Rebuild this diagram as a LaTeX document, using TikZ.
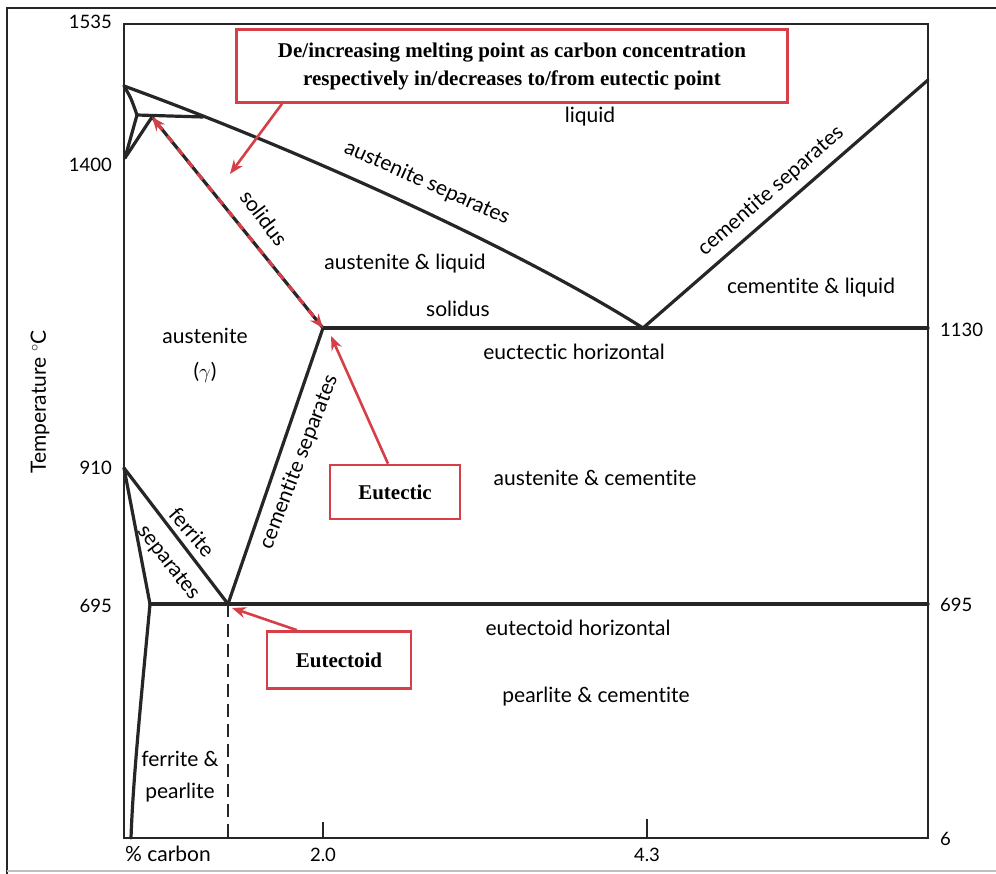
\documentclass[tikz,border=0pt]{standalone}
\usepackage{fontspec}
\setmainfont{Lato}[Ligatures=NoCommon]
\newfontfamily\calloutfont{Liberation Serif}
\usepackage{xcolor}
\usetikzlibrary{arrows.meta, positioning}
\definecolor{callred}{RGB}{214,62,72}

\begin{document}
\begin{tikzpicture}[x=1pt, y=-1pt,
    every node/.style={font=\fontsize{21}{24}\selectfont, inner sep=1pt},
    phase/.style={line width=3.2pt, black!85, line join=round, line cap=round},
    axis/.style={line width=2.8pt, black!85},
    tick/.style={line width=1.6pt, black!85},
    dashline/.style={line width=1.6pt, black!85, dash pattern=on 13pt off 7pt},
    soldash/.style={line width=3.2pt, callred, dash pattern=on 8pt off 8pt, {Stealth[length=14pt,width=11pt]}-{Stealth[length=14pt,width=11pt]}},
    callout/.style={rectangle, draw=callred, line width=2.6pt, fill=white, align=center, font=\calloutfont\bfseries\fontsize{21}{28}\selectfont},
    redarrow/.style={-{Stealth[length=14pt,width=11pt]}, line width=2.6pt, callred},
    num/.style={font=\fontsize{18.5}{21}\selectfont},
    ylbl/.style={num, anchor=east},
    xlbl/.style={anchor=north}
]
\useasboundingbox (0,0) rectangle (996,874);

% ── Outer frame ──
\coordinate (fTL) at (7,8);
\coordinate (fTR) at (996,8);
\coordinate (fBL) at (7,874);
\coordinate (fBR) at (996,871);
\draw[line width=2.4pt, black!85] (fBL) -- (fTL) -- (fTR);
\draw[line width=1.5pt, black!25] (7,871) -- (fBR);

% ── Axes box ──
\coordinate (oTL) at (124,24);
\coordinate (oBR) at (928,838);
\draw[axis] (oTL) rectangle (oBR);

% ── Key points ──
\coordinate (peak)  at (124,86);
\coordinate (pjoin) at (203,117);
\coordinate (pleft) at (137,115);
\coordinate (psol)  at (152,117);
\coordinate (plow)  at (125,158);
\coordinate (eut)   at (323,328);
\coordinate (eutc)  at (643,328);
\coordinate (eutR)  at (928,328);
\coordinate (liqR)  at (928,80);
\coordinate (a3)    at (124,468);
\coordinate (eoid)  at (228,604);
\coordinate (a1L)   at (150,604);
\coordinate (a1R)   at (928,604);
\coordinate (sbot)  at (131,838);
\coordinate (dbot)  at (228,838);

% ── Phase lines ──
\draw[phase] (peak) .. controls (300,150) and (520,250) .. (eutc);
\draw[phase] (eutc) -- (liqR);
\draw[phase] (peak) .. controls (131,98) .. (pleft);
\draw[phase] (pleft) -- (pjoin);
\draw[phase] (pleft) -- (plow);
\draw[phase] (psol) -- (plow);
\draw[phase] (eut) -- (eutR);
\draw[phase] (eut) -- (eoid);
\draw[phase] (a3) -- (eoid);
\draw[phase] (a3) -- (a1L);
\draw[phase] (a1L) .. controls (141,700) and (133,780) .. (sbot);
\draw[phase] (a1L) -- (a1R);
\draw[dashline] (eoid) -- (dbot);

% ── Solidus (dashed red) ──
\draw[phase] (psol) -- (eut);
\draw[soldash] (psol) -- (eut);

% ── Ticks ──
\coordinate (t20) at (323,822);
\coordinate (t20b) at (323,838);
\coordinate (t43) at (647,819);
\coordinate (t43b) at (647,838);
\draw[tick] (t20) -- (t20b);
\draw[tick] (t43) -- (t43b);

% ── Axis labels ──
\node[ylbl] (y1535) at (113,22) {1535};
\node[ylbl] (y1400) at (113,165) {1400};
\node[ylbl] (y910)  at (113,468) {910};
\node[ylbl] (y695)  at (113,606) {695};
\node[num, anchor=west] (r1130) at (939,330) {1130};
\node[num, anchor=west] (r695)  at (939,605) {695};
\node[num, anchor=west] (r6)    at (939,839) {6};
\node[xlbl] (xpc) at (168,845) {\% carbon};
\node[xlbl, num] (x20) at (323,847) {2.0};
\node[xlbl, num] (x43) at (647,847) {4.3};
\node[rotate=90] (ytitle) at (40,402) {Temperature $^\circ$C};

% ── Region labels ──
\node (liquid) at (590,117) {liquid};
\node[rotate=-24] (aussep) at (427,183) {austenite separates};
\node[rotate=-53] (solL) at (264,218) {solidus};
\node (ausliq) at (405,264) {austenite \& liquid};
\node (solR) at (458,309) {solidus};
\node[rotate=41] (cemsepR) at (771,191) {cementite separates};
\node (cemliq) at (811,288) {cementite \& liquid};
\node (aus) at (205,336) {austenite};
\node (gam) at (205,372) {($\gamma$)};
\node (euchor) at (574,352) {euctectic horizontal};
\node[rotate=69] (cemsepL) at (299,462) {cementite separates};
\node (auscem) at (595,478) {austenite \& cementite};
\node[rotate=-49] (fer) at (192,532) {ferrite};
\node[rotate=-52] (ferSep) at (168,563) {separates};
\node (eoidhor) at (578,628) {eutectoid horizontal};
\node (pearcem) at (596,697) {pearlite \& cementite};
\node (ferp1) at (180,759) {ferrite \&};
\node (ferp2) at (180,793) {pearlite};

% ── Callouts ──
\node[callout, minimum width=551pt, minimum height=73pt] (melt) at (512,66)
  {De/increasing melting point as carbon concentration\\respectively in/decreases to/from eutectic point};
\node[callout, minimum width=130pt, minimum height=54pt] (eutbox) at (395,492) {Eutectic};
\node[callout, minimum width=144pt, minimum height=57pt] (eoidbox) at (339,660) {Eutectoid};

\coordinate (meltTip) at (230,174);
\coordinate (eutTip) at (331,336);
\coordinate (eoidTip) at (232,608);
\draw[redarrow] ([xshift=-230pt]melt.south) -- (meltTip);
\draw[redarrow] ([xshift=-7pt]eutbox.north) -- (eutTip);
\draw[redarrow] ([xshift=-42pt]eoidbox.north) -- (eoidTip);

\end{tikzpicture}
\end{document}
